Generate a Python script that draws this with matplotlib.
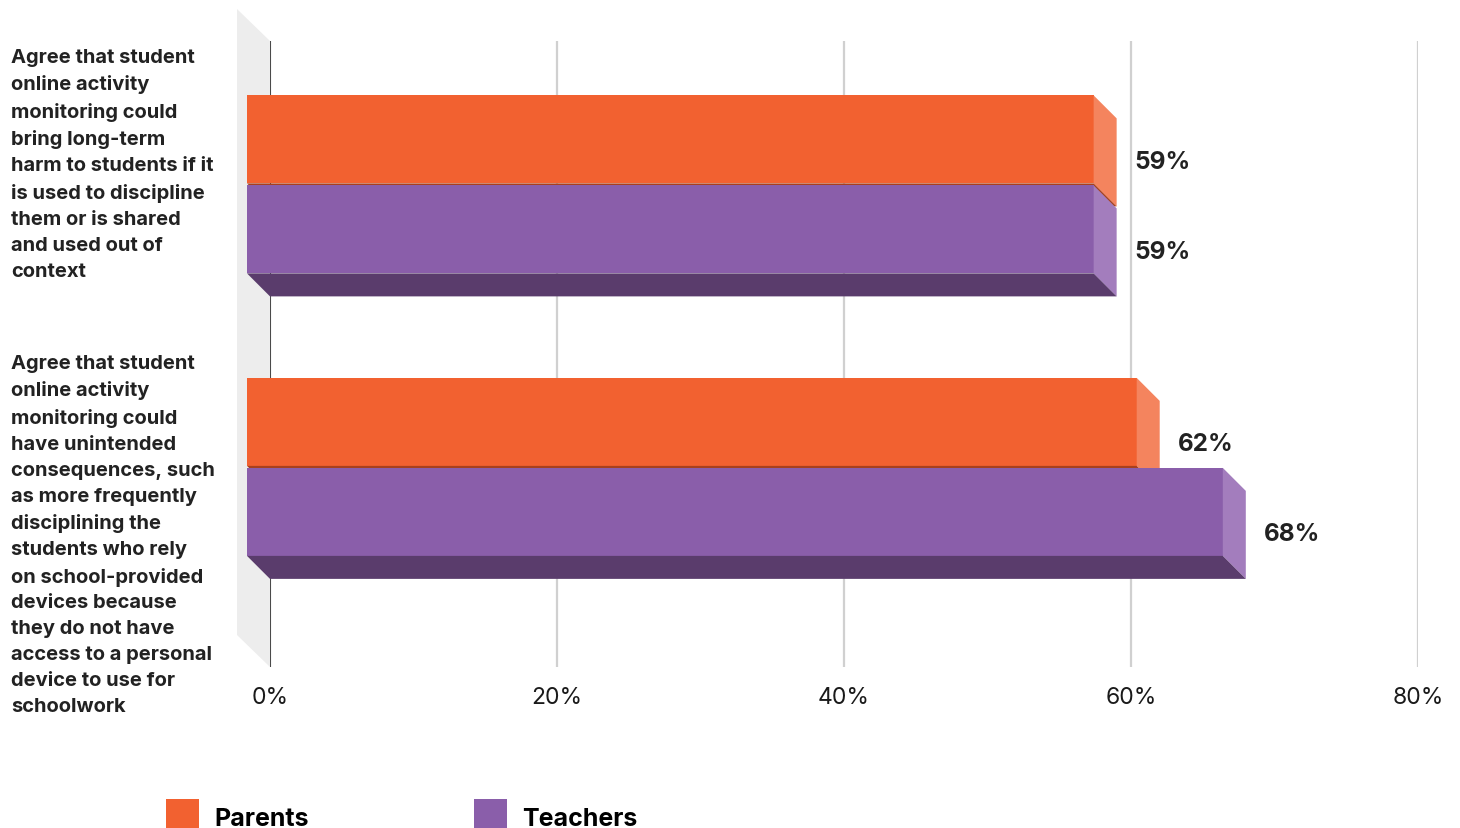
import matplotlib.pyplot as plt
from matplotlib.patches import Polygon
from matplotlib.patches import Patch

plt.rcParams['font.family'] = ['Inter', 'DejaVu Sans']

categories = [
    "Agree that student\nonline activity\nmonitoring could\nbring long-term\nharm to students if it\n"
    "is used to discipline\nthem or is shared\nand used out of\ncontext",
    "Agree that student\nonline activity\nmonitoring could\nhave unintended\nconsequences, such\n"
    "as more frequently\ndisciplining the\nstudents who rely\non school-provided\ndevices because\n"
    "they do not have\naccess to a personal\ndevice to use for\nschoolwork",
]
series = ["Parents", "Teachers"]
parents = [59, 62]
teachers = [59, 68]
ticks = [0, 20, 40, 60, 80]
tick_labels = ["0%", "20%", "40%", "60%", "80%"]

front_col = ["#f26130", "#8a5eaa"]
side_col = ["#f4845e", "#a37dbd"]
bottom_col = ["#a8401d", "#5a3c6c"]

W, H = 1460, 829
fig = plt.figure(figsize=(W / 100, H / 100), dpi=100)
ax = fig.add_axes([270 / W, (H - 668) / H, 1148 / W, 626 / H])
ax.set_xlim(0, 80)
ax.set_ylim(1.627, -0.589)
for s in ax.spines.values():
    s.set_visible(False)
ax.set_yticks([])
ax.set_xticks(ticks, tick_labels, fontsize=16.5, color="#1a1a1a")
ax.tick_params(axis="x", length=0, pad=14)

# pixel -> data conversions for the 3d depth
px_x = 80 / 1148
px_y = (1.627 + 0.589) / 626
dx, dy = 23 * px_x, 23 * px_y
h = 88 * px_y
gap = 2 * px_y

# back wall
wx, wy = 33 * px_x, 32 * px_y
ax.add_patch(Polygon([(0, -0.589), (0, 1.627), (-wx, 1.627 - wy), (-wx, -0.589 - wy)],
                     closed=True, fc="#ededed", ec="none", clip_on=False, zorder=0))
ax.vlines(ticks[1:], -0.589, 1.627, color="#d0d0d0", lw=1.6, zorder=1)
ax.vlines(0, -0.589, 1.627, color="#4a4a4a", lw=1.5, zorder=1)

for i in range(len(categories)):
    for j, vals in enumerate([parents, teachers]):
        v = vals[i]
        top = i - h - gap / 2 if j == 0 else i + gap / 2
        bot = top + h
        z = 3 + j
        ax.barh(top - dy, v, height=h, left=-dx, align="edge", color=front_col[j],
                zorder=z, clip_on=False)
        ax.add_patch(Polygon([(v - dx, top - dy), (v, top), (v, bot), (v - dx, bot - dy)],
                             closed=True, fc=side_col[j], ec="none", zorder=z, clip_on=False))
        ax.add_patch(Polygon([(-dx, bot - dy), (v - dx, bot - dy), (v, bot), (0, bot)],
                             closed=True, fc=bottom_col[j], ec="none", zorder=z, clip_on=False))
        ax.text(v + 18 * px_x, (top + bot) / 2 - 1 * px_y, f"{v}%", fontsize=17.5,
                fontweight="bold", color="#222222", va="center", ha="left")

label_tops = [49, 355]
for lab, yt in zip(categories, label_tops):
    fig.text(11 / W, 1 - yt / H, lab, fontsize=14.5, fontweight="bold", color="#222222",
             va="top", ha="left", linespacing=1.565)

handles = [Patch(fc=front_col[0], ec="none"), Patch(fc=front_col[1], ec="none")]
fig.legend(handles, series, loc="lower left", bbox_to_anchor=(166 / W, -0.007), ncol=2,
           frameon=False, prop={"size": 18.0, "weight": "bold"}, handlelength=1.33,
           handleheight=1.74, handletextpad=0.6, columnspacing=6.6, borderpad=0,
           borderaxespad=0)

fig.savefig("out.png", dpi=100)
